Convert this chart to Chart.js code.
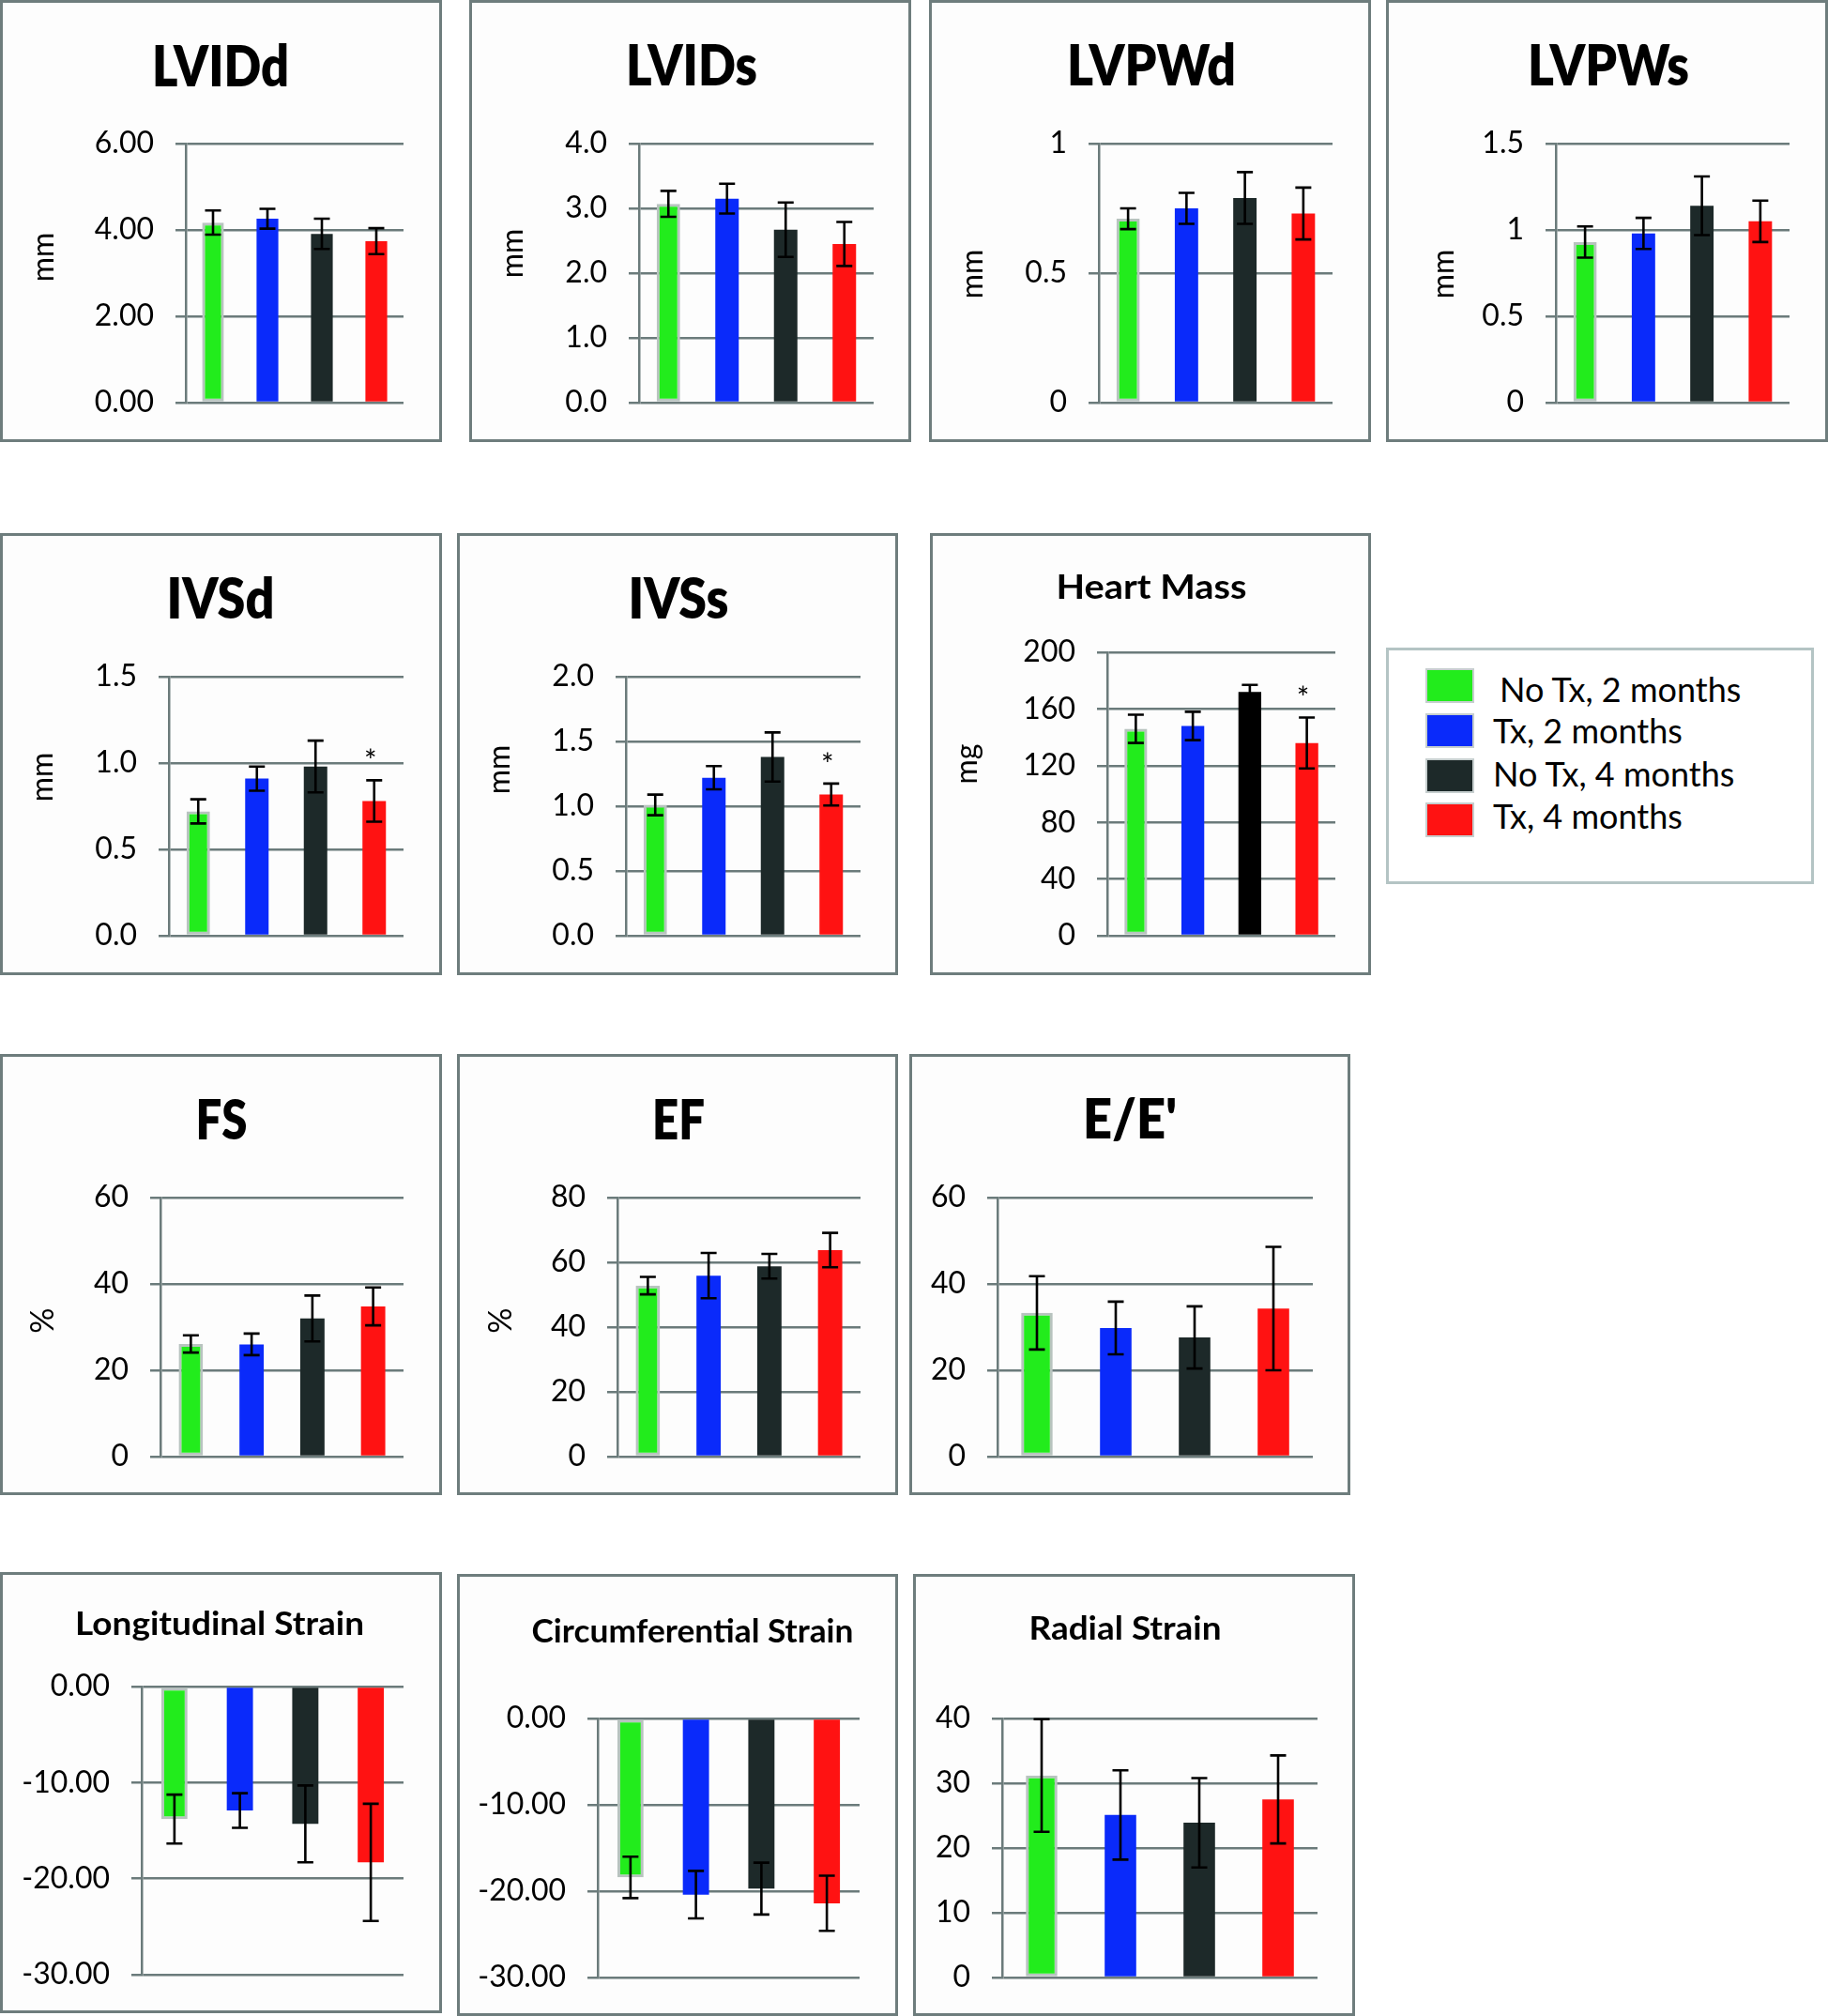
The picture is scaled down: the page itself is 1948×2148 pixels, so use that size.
<!DOCTYPE html>
<html>
<head>
<meta charset="utf-8">
<script src="https://cdn.jsdelivr.net/npm/chart.js@4.4.1/dist/chart.umd.min.js"></script>
<style>
    body { margin: 0; background: #fff; width: 1948px; height: 2148px; position: relative; overflow: hidden; font-family: Lato, sans-serif; }
    .panel { position: absolute; box-sizing: border-box; border: 3px solid #6e7d7d; background: #fdfdfd; }
    .panel canvas { position: absolute; left: 0; top: 0; }
    #legend { position: absolute; box-sizing: border-box; border: 3px solid #b4c4c4; background: #fff; }
    .sw { position: absolute; box-sizing: border-box; border: 2px solid #c6cece; }
    .lt { position: absolute; font-size: 36px; line-height: 43px; color: #000; white-space: nowrap; }
</style>
</head>
<body>
<div id="legend"></div>
<script>
//Gruppen
var groups = ["No Tx, 2 months", "Tx, 2 months", "No Tx, 4 months", "Tx, 4 months"];

//Werte (Mittelwert, Fehlerbalken, Achsenbeschriftung)
var lviddMean = [4.17, 4.26, 3.91, 3.74];
var lviddErr = [0.28, 0.23, 0.35, 0.30];
var lviddTicks = ["0.00", "2.00", "4.00", "6.00"];

var lvidsMean = [3.07, 3.15, 2.67, 2.45];
var lvidsErr = [0.20, 0.23, 0.42, 0.34];
var lvidsTicks = ["0.0", "1.0", "2.0", "3.0", "4.0"];

var lvpwdMean = [0.71, 0.75, 0.79, 0.73];
var lvpwdErr = [0.04, 0.06, 0.10, 0.10];
var lvpwdTicks = ["0", "0.5", "1"];

var lvpwsMean = [0.93, 0.98, 1.14, 1.05];
var lvpwsErr = [0.09, 0.09, 0.17, 0.12];
var lvpwsTicks = ["0", "0.5", "1", "1.5"];

var ivsdMean = [0.72, 0.91, 0.98, 0.78];
var ivsdErr = [0.07, 0.07, 0.15, 0.12];
var ivsdTicks = ["0.0", "0.5", "1.0", "1.5"];
var ivsdStar = [false, false, false, true];

var ivssMean = [1.01, 1.22, 1.38, 1.09];
var ivssErr = [0.08, 0.09, 0.19, 0.085];
var ivssTicks = ["0.0", "0.5", "1.0", "1.5", "2.0"];
var ivssStar = [false, false, false, true];

var heartMean = [146, 148, 172, 136];
var heartErr = [10, 10, 5, 18];
var heartTicks = ["0", "40", "80", "120", "160", "200"];
var heartStar = [false, false, false, true];

var fsMean = [26.1, 26.0, 32.0, 34.8];
var fsErr = [2.0, 2.5, 5.3, 4.4];
var fsTicks = ["0", "20", "40", "60"];

var efMean = [52.8, 55.9, 58.8, 63.8];
var efErr = [2.7, 7.0, 3.8, 5.3];
var efTicks = ["0", "20", "40", "60", "80"];

var eeMean = [33.3, 29.8, 27.6, 34.3];
var eeErr = [8.5, 6.1, 7.2, 14.3];
var eeTicks = ["0", "20", "40", "60"];

var longMean = [-13.8, -12.9, -14.3, -18.3];
var longErr = [2.55, 1.8, 4.0, 6.1];
var longTicks = ["-30.00", "-20.00", "-10.00", "0.00"];

var circMean = [-18.4, -20.4, -19.7, -21.4];
var circErr = [2.4, 2.75, 3.0, 3.2];
var circTicks = ["-30.00", "-20.00", "-10.00", "0.00"];

var radialMean = [31.2, 25.1, 23.9, 27.5];
var radialErr = [8.7, 6.9, 6.9, 6.8];
var radialTicks = ["0", "10", "20", "30", "40"];

//Farben
var barColors = ["#22ec1c", "#0a2afa", "#1d2929", "#ff1212"];
var heartColors = ["#22ec1c", "#0a2afa", "#000000", "#ff1212"];
var gridColor = "#6b7b7b";

var panels = [
    { id: "lvidd", title: "LVIDd", unit: "mm", mean: lviddMean, err: lviddErr, ticks: lviddTicks },
    { id: "lvids", title: "LVIDs", unit: "mm", mean: lvidsMean, err: lvidsErr, ticks: lvidsTicks },
    { id: "lvpwd", title: "LVPWd", unit: "mm", mean: lvpwdMean, err: lvpwdErr, ticks: lvpwdTicks },
    { id: "lvpws", title: "LVPWs", unit: "mm", mean: lvpwsMean, err: lvpwsErr, ticks: lvpwsTicks },
    { id: "ivsd", title: "IVSd", unit: "mm", mean: ivsdMean, err: ivsdErr, ticks: ivsdTicks, star: ivsdStar },
    { id: "ivss", title: "IVSs", unit: "mm", mean: ivssMean, err: ivssErr, ticks: ivssTicks, star: ivssStar },
    { id: "heart", title: "Heart Mass", unit: "mg", mean: heartMean, err: heartErr, ticks: heartTicks, star: heartStar, colors: heartColors },
    { id: "fs", title: "FS", unit: "%", mean: fsMean, err: fsErr, ticks: fsTicks },
    { id: "ef", title: "EF", unit: "%", mean: efMean, err: efErr, ticks: efTicks },
    { id: "ee", title: "E/E'", unit: null, mean: eeMean, err: eeErr, ticks: eeTicks },
    { id: "long", title: "Longitudinal Strain", unit: null, mean: longMean, err: longErr, ticks: longTicks },
    { id: "circ", title: "Circumferential Strain", unit: null, mean: circMean, err: circErr, ticks: circTicks },
    { id: "radial", title: "Radial Strain", unit: null, mean: radialMean, err: radialErr, ticks: radialTicks }
];

//Positionen: box [x,y,w,h], plot [links,oben,rechts,unten], title [cx,baseline,size,breite,gewicht], unit [baselineX,cy,size]
var layout = {
    lvidd: { box: [0, 0, 471, 471], plot: [198, 153, 430, 429], title: [235, 92, 61, 146, 800], unit: [57, 274, 32] },
    lvids: { box: [500, 0, 471, 471], plot: [681, 153, 931, 429], title: [737, 91, 61, 140, 800], unit: [557, 270, 32] },
    lvpwd: { box: [990, 0, 471, 471], plot: [1171, 153, 1420, 429], title: [1227, 91, 61, 180, 800], unit: [1047, 292, 32] },
    lvpws: { box: [1477, 0, 471, 471], plot: [1658, 153, 1907, 429], title: [1714, 91, 61, 172, 800], unit: [1549, 292, 32] },
    ivsd: { box: [0, 568, 471, 471], plot: [180, 721, 430, 997], title: [235, 659, 60, 115, 800], unit: [56, 828, 32] },
    ivss: { box: [487, 568, 470, 471], plot: [667, 721, 917, 997], title: [723, 659, 60, 107, 800], unit: [543, 820, 32] },
    heart: { box: [991, 568, 470, 471], plot: [1180, 695, 1423, 997], title: [1227, 638, 36, 203, 700], unit: [1041, 814, 32] },
    fs: { box: [0, 1123, 471, 470], plot: [171, 1276, 430, 1552], title: [236, 1214, 58, 55, 800], unit: [57, 1407, 34] },
    ef: { box: [487, 1123, 470, 470], plot: [658, 1276, 917, 1552], title: [723, 1214, 58, 56, 800], unit: [545, 1407, 34] },
    ee: { box: [969, 1123, 470, 470], plot: [1063, 1276, 1399, 1552], title: [1204, 1213, 58, 100, 800] },
    long: { box: [0, 1675, 471, 470], plot: [151, 1797, 430, 2104], title: [234, 1742, 35, 308, 700] },
    circ: { box: [487, 1677, 470, 471], plot: [637, 1831, 916, 2107], title: [738, 1750, 34, 343, 700] },
    radial: { box: [973, 1677, 471, 471], plot: [1068, 1831, 1404, 2107], title: [1199, 1747, 35, 205, 700] }
};

var legendLayout = { box: [1477, 690, 456, 252], swX: 1519, swW: 52, swH: 37, swTop: [712, 760, 808, 855], textX: [1598, 1591, 1591, 1591], baseline: [748, 792, 838, 883] };

Chart.defaults.font.family = "Lato";
Chart.defaults.color = "#000";

//Fehlerbalken und Sternchen
var errorBars = {
    id: "errorBars",
    afterDatasetsDraw(chart, args, o) {
        var ctx = chart.ctx;
        var y = chart.scales.y;
        var ds = chart.data.datasets[0];
        ctx.save();
        ctx.strokeStyle = "#000";
        ctx.fillStyle = "#000";
        ctx.lineWidth = 2.6;
        chart.getDatasetMeta(0).data.forEach((bar, i) => {
            var hi = y.getPixelForValue(ds.data[i] + o.err[i]);
            var lo = y.getPixelForValue(ds.data[i] - o.err[i]);
            ctx.beginPath();
            ctx.moveTo(bar.x, hi);
            ctx.lineTo(bar.x, lo);
            ctx.moveTo(bar.x - 8.5, hi);
            ctx.lineTo(bar.x + 8.5, hi);
            ctx.moveTo(bar.x - 8.5, lo);
            ctx.lineTo(bar.x + 8.5, lo);
            ctx.stroke();
            if (o.star && o.star[i]) {
                ctx.font = "32px Lato";
                ctx.textAlign = "center";
                ctx.textBaseline = "alphabetic";
                ctx.fillText("*", bar.x - 4, Math.min(hi, lo) - 9);
            }
        });
        ctx.restore();
    }
};

//Titel und Einheit
var panelText = {
    id: "panelText",
    afterDraw(chart, args, o) {
        var ctx = chart.ctx;
        var t = o.title;
        ctx.save();
        ctx.fillStyle = "#000";
        ctx.font = t[4] + " " + t[2] + "px Lato";
        ctx.textAlign = "center";
        ctx.textBaseline = "alphabetic";
        var w = ctx.measureText(o.text).width;
        ctx.translate(t[0] - o.ox, t[1] - o.oy);
        ctx.scale(t[3] / w, 1);
        ctx.fillText(o.text, 0, 0);
        ctx.restore();
        if (o.unit) {
            var u = o.unitPos;
            ctx.save();
            ctx.fillStyle = "#000";
            ctx.font = u[2] + "px Lato";
            ctx.textAlign = "center";
            ctx.textBaseline = "alphabetic";
            ctx.translate(u[0] - o.ox, u[1] - o.oy);
            ctx.rotate(-Math.PI / 2);
            ctx.fillText(o.unit, 0, 0);
            ctx.restore();
        }
    }
};

//Diagramme erstellen
panels.forEach(p => {
    var pos = layout[p.id];
    var box = pos.box;
    var plot = pos.plot;
    var div = document.createElement("div");
    div.className = "panel";
    div.style.left = box[0] + "px";
    div.style.top = box[1] + "px";
    div.style.width = box[2] + "px";
    div.style.height = box[3] + "px";
    var canvas = document.createElement("canvas");
    var cw = box[2] - 6;
    var ch = box[3] - 6;
    canvas.width = cw;
    canvas.height = ch;
    canvas.style.width = cw + "px";
    canvas.style.height = ch + "px";
    div.appendChild(canvas);
    document.body.appendChild(div);
    var ox = box[0] + 3;
    var oy = box[1] + 3;
    var tickVals = p.ticks.map(parseFloat);
    new Chart(canvas, {
        type: "bar",
        data: {
            labels: groups,
            datasets: [{
                data: p.mean,
                backgroundColor: p.colors || barColors,
                borderColor: ["#b8c3bf", "rgba(0,0,0,0)", "rgba(0,0,0,0)", "rgba(0,0,0,0)"],
                borderWidth: [3, 0, 0, 0],
                borderSkipped: false,
                barPercentage: 0.4,
                categoryPercentage: 1
            }]
        },
        options: {
            responsive: false,
            animation: false,
            devicePixelRatio: 1,
            layout: {
                padding: { left: 0, top: plot[1] - oy, right: ox + cw - plot[2], bottom: oy + ch - plot[3] }
            },
            plugins: {
                legend: { display: false },
                tooltip: { enabled: false },
                errorBars: { err: p.err, star: p.star },
                panelText: { text: p.title, title: pos.title, unit: p.unit, unitPos: pos.unit, ox: ox, oy: oy }
            },
            scales: {
                x: { display: false },
                y: {
                    min: tickVals[0],
                    max: tickVals[tickVals.length - 1],
                    afterFit: s => {
                        s.width = plot[0] - ox;
                        s.paddingTop = 0;
                        s.paddingBottom = 0;
                    },
                    ticks: {
                        stepSize: tickVals[1] - tickVals[0],
                        padding: 23,
                        font: { size: 32 },
                        color: "#000",
                        callback: v => {
                            var k = tickVals.findIndex(t => Math.abs(t - v) < 1e-9);
                            return k >= 0 ? p.ticks[k] : "";
                        }
                    },
                    grid: { color: gridColor, lineWidth: 2.5, tickLength: 11, drawTicks: true },
                    border: { display: true, color: gridColor, width: 2.5 }
                }
            }
        },
        plugins: [errorBars, panelText]
    });
});

//Legende
var leg = document.getElementById("legend");
var lb = legendLayout.box;
leg.style.left = lb[0] + "px";
leg.style.top = lb[1] + "px";
leg.style.width = lb[2] + "px";
leg.style.height = lb[3] + "px";
groups.forEach((g, i) => {
    var sw = document.createElement("div");
    sw.className = "sw";
    sw.style.left = legendLayout.swX + "px";
    sw.style.top = legendLayout.swTop[i] + "px";
    sw.style.width = legendLayout.swW + "px";
    sw.style.height = legendLayout.swH + "px";
    sw.style.background = barColors[i];
    document.body.appendChild(sw);
    var lt = document.createElement("div");
    lt.className = "lt";
    lt.style.left = legendLayout.textX[i] + "px";
    lt.style.top = (legendLayout.baseline[i] - 35.5) + "px";
    lt.textContent = g;
    document.body.appendChild(lt);
});
</script>
</body>
</html>
